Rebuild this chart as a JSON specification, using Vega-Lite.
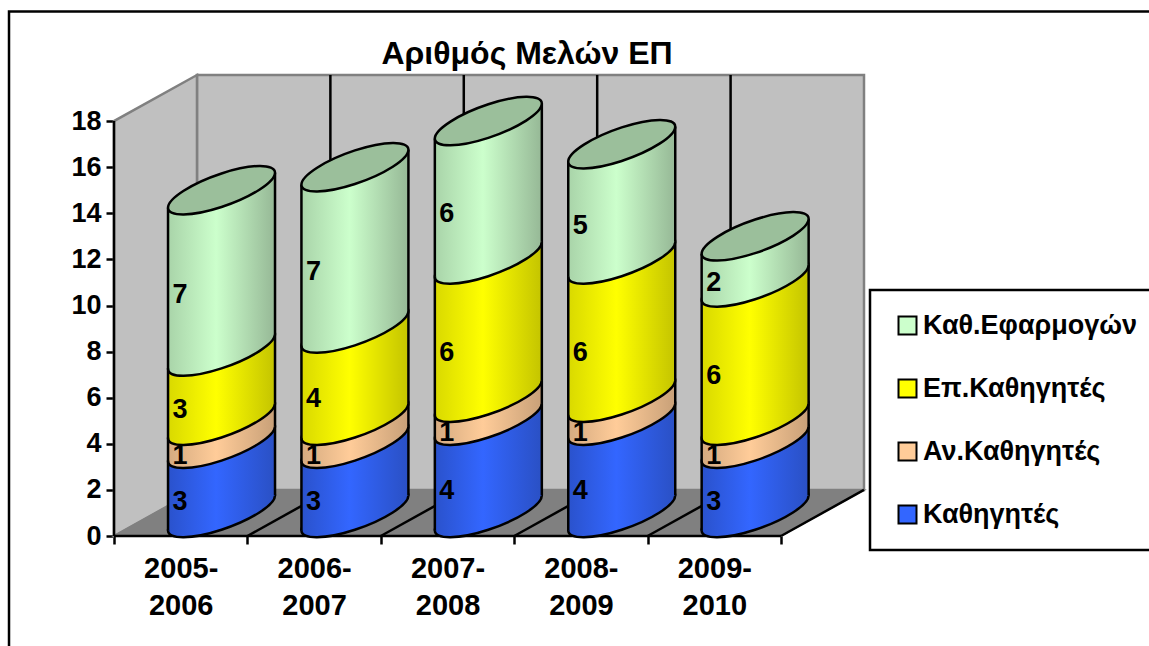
{
"$schema":"https://vega.github.io/schema/vega-lite/v6.json",
"width":750,"height":461,
"autosize":{"type":"none"},
"padding":{"left":114,"top":75,"right":285,"bottom":110},
"background":"white",
"title":{"text":"Αριθμός Μελών ΕΠ","font":"Liberation Sans","fontSize":32,"fontWeight":"bold","color":"black","anchor":"middle","dx":38,"dy":68,"offset":7,"frame":"group"},
"config":{"view":{"stroke":null},"font":"Liberation Sans","legend":{"strokeWidth":2.5}},
"datasets":{"counts":[
{"year":"2005-2006","series":"Καθηγητές","value":3},
{"year":"2005-2006","series":"Αν.Καθηγητές","value":1},
{"year":"2005-2006","series":"Επ.Καθηγητές","value":3},
{"year":"2005-2006","series":"Καθ.Εφαρμογών","value":7},
{"year":"2006-2007","series":"Καθηγητές","value":3},
{"year":"2006-2007","series":"Αν.Καθηγητές","value":1},
{"year":"2006-2007","series":"Επ.Καθηγητές","value":4},
{"year":"2006-2007","series":"Καθ.Εφαρμογών","value":7},
{"year":"2007-2008","series":"Καθηγητές","value":4},
{"year":"2007-2008","series":"Αν.Καθηγητές","value":1},
{"year":"2007-2008","series":"Επ.Καθηγητές","value":6},
{"year":"2007-2008","series":"Καθ.Εφαρμογών","value":6},
{"year":"2008-2009","series":"Καθηγητές","value":4},
{"year":"2008-2009","series":"Αν.Καθηγητές","value":1},
{"year":"2008-2009","series":"Επ.Καθηγητές","value":6},
{"year":"2008-2009","series":"Καθ.Εφαρμογών","value":5},
{"year":"2009-2010","series":"Καθηγητές","value":3},
{"year":"2009-2010","series":"Αν.Καθηγητές","value":1},
{"year":"2009-2010","series":"Επ.Καθηγητές","value":6},
{"year":"2009-2010","series":"Καθ.Εφαρμογών","value":2}
]},
"data":{"name":"counts"},
"transform":[
{"calculate":"indexof(['Καθηγητές','Αν.Καθηγητές','Επ.Καθηγητές','Καθ.Εφαρμογών'],datum.series)","as":"ord"},
{"stack":"value","groupby":["year"],"sort":[{"field":"ord","order":"ascending"}],"as":["s0","s1"]},
{"calculate":"toNumber(slice(datum.year,0,4))-2005","as":"idx"},
{"calculate":"datum.idx+0.806","as":"cx"},
{"calculate":"datum.s0+1","as":"yb"},
{"calculate":"datum.s1+1","as":"yt"},
{"calculate":"(datum.s0+datum.s1)/2-0.04","as":"ym"},
{"calculate":"datum.cx-0.401","as":"xl"},
{"calculate":"datum.cx+0.401","as":"xr"},
{"calculate":"datum.s0+0.24","as":"l0"},
{"calculate":"datum.s1+0.24","as":"l1"},
{"calculate":"datum.s0+1.76","as":"r0"},
{"calculate":"datum.s1+1.76","as":"r1"},
{"calculate":"datum.idx+0.495","as":"xt"}
],
"layer":[
{"mark":{"type":"point","filled":true,"size":10,"opacity":1},
 "encoding":{
  "x":{"field":"cx","type":"quantitative","scale":{"domain":[0,5.622],"nice":false,"zero":false},
   "axis":{"title":null,"grid":false,"domain":false,"values":[0,1,2,3,4,5],"tickSize":8,"tickWidth":2.5,"tickColor":"black","labelFont":"Liberation Sans","labelFontSize":29,"labelFontWeight":"bold","labelColor":"black","labelOffset":66.7,"labelPadding":10,"labelLineHeight":37,"labelOverlap":false,"labelBound":false,"labelFlush":false,"labelBaseline":"top","labelExpr":"datum.value<5?[(2005+datum.value)+'-',''+(2006+datum.value)]:''"}},
  "y":{"field":"yb","type":"quantitative","scale":{"domain":[0,20],"nice":false,"zero":false},
   "axis":{"title":null,"grid":false,"domain":false,"values":[0,2,4,6,8,10,12,14,16,18],"tickSize":8,"tickWidth":2.5,"tickColor":"black","labelFont":"Liberation Sans","labelFontSize":27,"labelFontWeight":"bold","labelColor":"black","labelPadding":5,"labelOverlap":false,"labelBound":false,"labelFlush":false}},
  "color":{"field":"series","type":"nominal","scale":{"domain":["Καθ.Εφαρμογών","Επ.Καθηγητές","Αν.Καθηγητές","Καθηγητές"],"range":["#ccffcc","#ffff00","#ffcc99","#3366ff"]},
   "legend":{"title":null,"orient":"none","legendX":756,"legendY":215,"padding":22,"strokeColor":"black","fillColor":"white","symbolType":"square","symbolSize":324,"symbolStrokeColor":"black","symbolStrokeWidth":2,"symbolOffset":2,"labelOffset":2,"rowPadding":35,"labelFont":"Liberation Sans","labelFontSize":27,"labelFontWeight":"bold","labelColor":"black","labelLimit":400}}
 }},
{"data":{"values":[{"a":1}]},"mark":{"type":"rect","fill":"transparent","stroke":"black","strokeWidth":2.5},
 "encoding":{"x":{"datum":-0.787,"type":"quantitative"},"x2":{"datum":8},"y":{"datum":22.75,"type":"quantitative"},"y2":{"datum":-6}}},
{"data":{"values":[{"a":1}]},"mark":{"type":"rect","fill":"#c0c0c0","stroke":"#808080","strokeWidth":2.5},
 "encoding":{"x":{"datum":0.622,"type":"quantitative"},"x2":{"datum":5.622},"y":{"datum":2,"type":"quantitative"},"y2":{"datum":20}}},
{"data":{"values":[{"px":0,"lo":0,"hi":18},{"px":0.622,"lo":2,"hi":20}]},"mark":{"type":"area","orient":"vertical","fill":"#c0c0c0","stroke":"#808080","strokeWidth":2.5},
 "encoding":{"x":{"field":"px","type":"quantitative"},"y":{"field":"lo","type":"quantitative","stack":null},"y2":{"field":"hi"}}},
{"data":{"values":[{"px":0,"lo":0,"hi":0},{"px":0.622,"lo":0,"hi":2},{"px":5,"lo":0,"hi":2},{"px":5.622,"lo":2,"hi":2}]},"mark":{"type":"area","orient":"vertical","fill":"#808080","stroke":"#808080","strokeWidth":1.5},
 "encoding":{"x":{"field":"px","type":"quantitative"},"y":{"field":"lo","type":"quantitative","stack":null},"y2":{"field":"hi"}}},
{"data":{"values":[{"i":1},{"i":2},{"i":3},{"i":4},{"i":5}]},"transform":[{"calculate":"datum.i+0.622","as":"j"}],"mark":{"type":"rule","color":"black","strokeWidth":2.5},
 "encoding":{"x":{"field":"i","type":"quantitative"},"x2":{"field":"j"},"y":{"datum":0,"type":"quantitative"},"y2":{"datum":2}}},
{"data":{"values":[{"i":1},{"i":2},{"i":3},{"i":4}]},"transform":[{"calculate":"datum.i+0.622","as":"j"}],"mark":{"type":"rule","color":"black","strokeWidth":2.5},
 "encoding":{"x":{"field":"j","type":"quantitative"},"y":{"datum":2,"type":"quantitative"},"y2":{"datum":20}}},
{"data":{"values":[{"a":1}]},"mark":{"type":"rule","color":"black","strokeWidth":2.5},
 "encoding":{"x":{"datum":0,"type":"quantitative"},"y":{"datum":0,"type":"quantitative"},"y2":{"datum":18}}},
{"data":{"values":[{"a":1}]},"mark":{"type":"rule","color":"black","strokeWidth":2.5},
 "encoding":{"y":{"datum":0,"type":"quantitative"},"x":{"datum":0,"type":"quantitative"},"x2":{"datum":5}}},

{"transform":[{"filter":"datum.ord==0"}],"mark":{"type":"point","opacity":1,"filled":true,"shape":"M1,-0.327C1,-0.1536,0.5523,0.1334,0,0.314C-0.5523,0.4946,-1,0.5004,-1,0.327C-1,0.1536,-0.5523,-0.1334,0,-0.314C0.5523,-0.4946,1,-0.5004,1,-0.327Z","size":11449,"stroke":"black","strokeWidth":2.5,"fill":{"x1":0,"x2":1,"y1":0,"y2":0,"gradient":"linear","stops":[{"offset":0,"color":"#2a52cc"},{"offset":0.45,"color":"#3366ff"},{"offset":1,"color":"#2a50c4"}]}},
 "encoding":{"x":{"field":"cx","type":"quantitative"},"y":{"field":"yb","type":"quantitative"}}},
{"transform":[{"filter":"datum.ord==0"},{"calculate":"[0,1]","as":"t"},{"flatten":["t"]},{"calculate":"datum.t==0?datum.xl:datum.xr","as":"px"},{"calculate":"datum.t==0?datum.l0:datum.r0","as":"lo"},{"calculate":"datum.t==0?datum.l1:datum.r1","as":"hi"}],
 "mark":{"type":"area","orient":"vertical","fill":{"x1":0,"x2":1,"y1":0,"y2":0,"gradient":"linear","stops":[{"offset":0,"color":"#2a52cc"},{"offset":0.45,"color":"#3366ff"},{"offset":1,"color":"#2a50c4"}]}},
 "encoding":{"detail":{"field":"year"},"x":{"field":"px","type":"quantitative"},"y":{"field":"lo","type":"quantitative","stack":null},"y2":{"field":"hi"}}},

{"transform":[{"filter":"datum.ord==1"}],"mark":{"type":"point","opacity":1,"filled":true,"shape":"M1,-0.327C1,-0.1536,0.5523,0.1334,0,0.314C-0.5523,0.4946,-1,0.5004,-1,0.327C-1,0.1536,-0.5523,-0.1334,0,-0.314C0.5523,-0.4946,1,-0.5004,1,-0.327Z","size":11449,"stroke":"black","strokeWidth":2.5,"fill":{"x1":0,"x2":1,"y1":0,"y2":0,"gradient":"linear","stops":[{"offset":0,"color":"#d4aa80"},{"offset":0.45,"color":"#ffcc99"},{"offset":1,"color":"#c8a078"}]}},
 "encoding":{"x":{"field":"cx","type":"quantitative"},"y":{"field":"yb","type":"quantitative"}}},
{"transform":[{"filter":"datum.ord==1"},{"calculate":"[0,1]","as":"t"},{"flatten":["t"]},{"calculate":"datum.t==0?datum.xl:datum.xr","as":"px"},{"calculate":"datum.t==0?datum.l0:datum.r0","as":"lo"},{"calculate":"datum.t==0?datum.l1:datum.r1","as":"hi"}],
 "mark":{"type":"area","orient":"vertical","fill":{"x1":0,"x2":1,"y1":0,"y2":0,"gradient":"linear","stops":[{"offset":0,"color":"#d4aa80"},{"offset":0.45,"color":"#ffcc99"},{"offset":1,"color":"#c8a078"}]}},
 "encoding":{"detail":{"field":"year"},"x":{"field":"px","type":"quantitative"},"y":{"field":"lo","type":"quantitative","stack":null},"y2":{"field":"hi"}}},

{"transform":[{"filter":"datum.ord==2"}],"mark":{"type":"point","opacity":1,"filled":true,"shape":"M1,-0.327C1,-0.1536,0.5523,0.1334,0,0.314C-0.5523,0.4946,-1,0.5004,-1,0.327C-1,0.1536,-0.5523,-0.1334,0,-0.314C0.5523,-0.4946,1,-0.5004,1,-0.327Z","size":11449,"stroke":"black","strokeWidth":2.5,"fill":{"x1":0,"x2":1,"y1":0,"y2":0,"gradient":"linear","stops":[{"offset":0,"color":"#d9d900"},{"offset":0.45,"color":"#ffff00"},{"offset":1,"color":"#c4c400"}]}},
 "encoding":{"x":{"field":"cx","type":"quantitative"},"y":{"field":"yb","type":"quantitative"}}},
{"transform":[{"filter":"datum.ord==2"},{"calculate":"[0,1]","as":"t"},{"flatten":["t"]},{"calculate":"datum.t==0?datum.xl:datum.xr","as":"px"},{"calculate":"datum.t==0?datum.l0:datum.r0","as":"lo"},{"calculate":"datum.t==0?datum.l1:datum.r1","as":"hi"}],
 "mark":{"type":"area","orient":"vertical","fill":{"x1":0,"x2":1,"y1":0,"y2":0,"gradient":"linear","stops":[{"offset":0,"color":"#d9d900"},{"offset":0.45,"color":"#ffff00"},{"offset":1,"color":"#c4c400"}]}},
 "encoding":{"detail":{"field":"year"},"x":{"field":"px","type":"quantitative"},"y":{"field":"lo","type":"quantitative","stack":null},"y2":{"field":"hi"}}},

{"transform":[{"filter":"datum.ord==3"}],"mark":{"type":"point","opacity":1,"filled":true,"shape":"M1,-0.327C1,-0.1536,0.5523,0.1334,0,0.314C-0.5523,0.4946,-1,0.5004,-1,0.327C-1,0.1536,-0.5523,-0.1334,0,-0.314C0.5523,-0.4946,1,-0.5004,1,-0.327Z","size":11449,"stroke":"black","strokeWidth":2.5,"fill":{"x1":0,"x2":1,"y1":0,"y2":0,"gradient":"linear","stops":[{"offset":0,"color":"#a9d4a9"},{"offset":0.45,"color":"#ccffcc"},{"offset":1,"color":"#96b896"}]}},
 "encoding":{"x":{"field":"cx","type":"quantitative"},"y":{"field":"yb","type":"quantitative"}}},
{"transform":[{"filter":"datum.ord==3"},{"calculate":"[0,1]","as":"t"},{"flatten":["t"]},{"calculate":"datum.t==0?datum.xl:datum.xr","as":"px"},{"calculate":"datum.t==0?datum.l0:datum.r0","as":"lo"},{"calculate":"datum.t==0?datum.l1:datum.r1","as":"hi"}],
 "mark":{"type":"area","orient":"vertical","fill":{"x1":0,"x2":1,"y1":0,"y2":0,"gradient":"linear","stops":[{"offset":0,"color":"#a9d4a9"},{"offset":0.45,"color":"#ccffcc"},{"offset":1,"color":"#96b896"}]}},
 "encoding":{"detail":{"field":"year"},"x":{"field":"px","type":"quantitative"},"y":{"field":"lo","type":"quantitative","stack":null},"y2":{"field":"hi"}}},

{"mark":{"type":"rule","color":"black","strokeWidth":2.5},"encoding":{"x":{"field":"xl","type":"quantitative"},"y":{"field":"l0","type":"quantitative"},"y2":{"field":"l1"}}},
{"mark":{"type":"rule","color":"black","strokeWidth":2.5},"encoding":{"x":{"field":"xr","type":"quantitative"},"y":{"field":"r0","type":"quantitative"},"y2":{"field":"r1"}}},

{"transform":[{"filter":"datum.ord==3"}],"mark":{"type":"point","opacity":1,"filled":true,"shape":"M1,-0.327C1,-0.1536,0.5523,0.1334,0,0.314C-0.5523,0.4946,-1,0.5004,-1,0.327C-1,0.1536,-0.5523,-0.1334,0,-0.314C0.5523,-0.4946,1,-0.5004,1,-0.327Z","size":11449,"stroke":"black","strokeWidth":2.5,"fill":"#9bbf9b"},
 "encoding":{"x":{"field":"cx","type":"quantitative"},"y":{"field":"yt","type":"quantitative"}}},

{"mark":{"type":"text","font":"Liberation Sans","fontSize":27,"fontWeight":"bold","color":"black","baseline":"middle","align":"center"},
 "encoding":{"text":{"field":"value","type":"quantitative"},"x":{"field":"xt","type":"quantitative"},"y":{"field":"ym","type":"quantitative"}}}
]
}
